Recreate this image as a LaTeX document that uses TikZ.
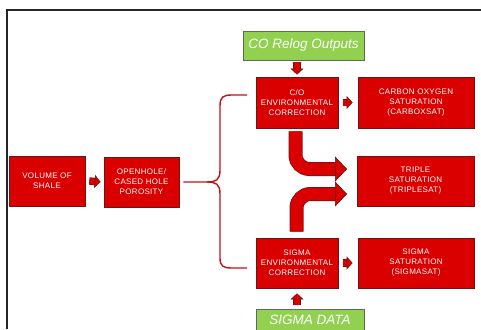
\documentclass[tikz,border=0pt]{standalone}
\usepackage{fontspec}
\setmainfont{Liberation Sans}
\newfontfamily\boxfont[LetterSpace=4]{Liberation Sans}
\usetikzlibrary{arrows.meta}

\definecolor{boxred}{RGB}{218,0,0}
\definecolor{edgered}{RGB}{110,20,20}
\definecolor{bracered}{RGB}{190,18,24}
\definecolor{datagreen}{RGB}{146,208,80}
\definecolor{edgegreen}{RGB}{95,105,85}

\tikzset{
redbox/.style={draw=edgered, fill=boxred, line width=0.8pt, text=white, align=center,
  font=\boxfont\fontsize{8}{10}\selectfont, inner sep=0pt},
greenbox/.style={draw=edgegreen, fill=datagreen, line width=0.8pt, text=white,
  font=\fontsize{13.5}{15}\selectfont\itshape, inner sep=0pt},
smallarrow/.style={line width=6pt, boxred,
  -{Triangle[length=6pt,width=13pt,fill=boxred,color=edgered,line width=0.6pt]},
  preaction={draw=edgered, line width=7.4pt, -, shorten >=5pt}},
bigarrow/.style={line width=12.5pt, boxred, rounded corners=14pt,
  -{Triangle[length=12pt,width=25pt,fill=boxred,color=edgered,line width=0.7pt]},
  preaction={draw=edgered, line width=14pt, -, shorten >=11pt}},
brace/.style={draw=bracered, line width=1.4pt}
}

\begin{document}
\begin{tikzpicture}[x=1pt,y=-1pt]

\useasboundingbox (0,0) rectangle (481,329);
\draw [line width=1.3pt, black!85] (7,329) -- (7,10) -- (481,10);

\node [greenbox, minimum width=121pt, minimum height=29pt] (corelog) at (303.5,45.5) {CO Relog Outputs};
\node [greenbox, minimum width=108pt, minimum height=22pt] (sigdata) at (310,320) {SIGMA DATA};

\node [redbox, minimum width=76pt, minimum height=50pt] (vsh) at (47,181) {VOLUME OF\\SHALE};
\node [redbox, minimum width=75pt, minimum height=50pt] (poro) at (141.5,182) {OPENHOLE/\\CASED HOLE\\POROSITY};

\node [redbox, minimum width=82pt, minimum height=51pt] (coenv) at (297,102.5) {C/O\\ENVIRONMENTAL\\CORRECTION};
\node [redbox, minimum width=116pt, minimum height=51pt] (carbox) at (416,102.5) {CARBON OXYGEN\\SATURATION\\(CARBOXSAT)};
\node [redbox, minimum width=117pt, minimum height=50pt] (triple) at (415.5,181) {TRIPLE\\SATURATION\\(TRIPLESAT)};
\node [redbox, minimum width=82pt, minimum height=50pt] (sigenv) at (297,263) {SIGMA\\ENVIRONMENTAL\\CORRECTION};
\node [redbox, minimum width=116pt, minimum height=50pt] (sigsat) at (416,263) {SIGMA\\SATURATION\\(SIGMASAT)};

\draw [smallarrow] ([xshift=4pt]vsh.east) -- ([xshift=-3pt]poro.west);
\draw [smallarrow] ([xshift=5pt]coenv.east) -- ([xshift=-5pt]carbox.west);
\draw [smallarrow] ([xshift=5pt]sigenv.east) -- ([xshift=-5pt]sigsat.west);
\draw [smallarrow] ([yshift=-2pt]coenv.north |- corelog.south) -- ([yshift=2pt]coenv.north);
\draw [smallarrow] ([yshift=4pt]sigenv.south |- sigdata.north) -- ([yshift=-5pt]sigenv.south);

\coordinate (tipco) at (347,169);
\coordinate (tipsig) at (347,194);
\draw [bigarrow] ([xshift=-1.5pt,yshift=-3pt]coenv.south) |- (tipco);
\draw [bigarrow] ([xshift=-0.5pt,yshift=6pt]sigenv.north) |- (tipsig);

\coordinate (brtop) at (247,95);
\coordinate (brbot) at (247,268);
\draw [brace] ([xshift=4pt]poro.east) -- (207,182) .. controls (216,182) and (220,180) .. (220,170)
  -- (220,106) .. controls (220,97) and (223,95) .. (232,95) -- (brtop);
\draw [brace] (207,182) .. controls (216,182) and (220,184) .. (220,194)
  -- (220,258) .. controls (220,266) and (223,268) .. (232,268) -- (brbot);
\end{tikzpicture}
\end{document}
